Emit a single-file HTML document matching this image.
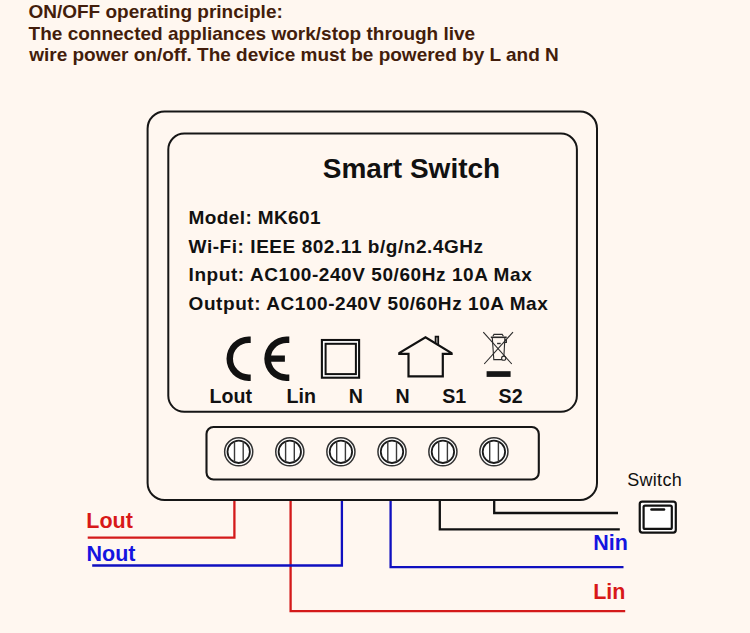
<!DOCTYPE html>
<html>
<head>
<meta charset="utf-8">
<style>
html,body{margin:0;padding:0;background:#fff7f0;}
body{width:750px;height:633px;overflow:hidden;position:relative;}
svg{position:absolute;left:0;top:0;display:block;}
text{font-family:"Liberation Sans",sans-serif;}
.b{font-weight:bold;}
</style>
</head>
<body>
<svg width="750" height="633" viewBox="0 0 750 633">
  <defs><clipPath id="hc"><rect x="398.2" y="330" width="54.5" height="50"/></clipPath></defs>
  <rect x="0" y="0" width="750" height="633" fill="#fff7f0"/>

  <!-- header text -->
  <g class="b" fill="#431d0b" font-size="19" font-weight="bold">
    <text x="28.4" y="17.8">ON/OFF operating principle:</text>
    <text x="28.6" y="39.6">The connected appliances work/stop through live</text>
    <text x="29.2" y="61.4">wire power on/off. The device must be powered by L and N</text>
  </g>

  <!-- outer box -->
  <rect x="147.6" y="111.5" width="449.4" height="388.4" rx="17" ry="17" fill="none" stroke="#161616" stroke-width="2"/>
  <!-- inner label panel -->
  <rect x="168.3" y="133.6" width="408.6" height="278.2" rx="16" ry="16" fill="none" stroke="#161616" stroke-width="2"/>

  <!-- title -->
  <text x="322.8" y="177.8" font-size="28" font-weight="bold" fill="#111">Smart Switch</text>

  <g font-size="19" font-weight="bold" fill="#111">
    <text x="188.6" y="224" letter-spacing="0.38">Model: MK601</text>
    <text x="188.6" y="252.5" letter-spacing="0.55">Wi-Fi: IEEE 802.11 b/g/n2.4GHz</text>
    <text x="188.6" y="281" letter-spacing="0.57">Input: AC100-240V 50/60Hz 10A Max</text>
    <text x="188.6" y="309.6" letter-spacing="0.56">Output: AC100-240V 50/60Hz 10A Max</text>
  </g>

  <!-- CE mark -->
  <path fill="#111" d="M250.7,336.5 L248.7,336.5 A22.2,22.2 0 0 0 248.7,380.9 L250.7,380.9 L250.7,374.4 L248.7,374.4 A15.7,15.7 0 0 1 248.7,343 L250.7,343 Z"/>
  <path fill="#111" d="M289.3,336.5 L286.5,336.5 A22.2,22.2 0 0 0 286.5,380.9 L289.3,380.9 L289.3,374.4 L286.5,374.4 A15.7,15.7 0 0 1 271.1,361.8 L284.9,361.8 L284.9,355.6 L271.1,355.6 A15.7,15.7 0 0 1 286.5,343 L289.3,343 Z"/>

  <!-- double square -->
  <rect x="321.9" y="340" width="37.2" height="37.7" fill="#fff" stroke="#111" stroke-width="2.1"/>
  <rect x="325.6" y="343.8" width="30.3" height="30.3" fill="#fff7f0" stroke="#111" stroke-width="2"/>

  <!-- house -->
  <path clip-path="url(#hc)" fill="none" stroke="#111" stroke-width="2.2" stroke-linejoin="miter" d="M397.9,353.8 L425.5,337.3 L452.7,353.8 L442.8,353.8 L442.8,376.3 L408.5,376.3 L408.5,353.8 Z"/>
  <path fill="none" stroke="#111" stroke-width="1.8" d="M435.6,343.6 L435.6,336.6 L438.2,336.6 L438.2,345.2"/>

  <!-- WEEE -->
  <g fill="none" stroke="#2a2a2a" stroke-width="1.1">
    <path d="M483.3,332.2 L511.8,364"/>
    <path d="M513,332.1 L484.2,364"/>
    <path d="M492.9,336.3 L494,334.4 L502.2,334.4 L503.4,336.3"/>
    <path d="M490.8,337.3 L506.7,337.3" stroke-width="1.6"/>
    <path d="M492.3,337.9 L493.8,359.6 L502,359.6"/>
    <path d="M504.9,337.9 L503.9,356.2"/>
    <path d="M504.8,339.8 L506.4,339.8 L506.4,342.4 L504.7,342.4"/>
    <circle cx="503.7" cy="358.2" r="2.1"/>
  </g>
  <path d="M497.1,343.5 L500.7,343.5" stroke="#2a2a2a" stroke-width="1.4"/>
  <rect x="486.6" y="371.2" width="24" height="5.7" fill="#161616"/>

  <!-- labels -->
  <g font-size="19.6" font-weight="bold" fill="#111">
    <text x="209.5" y="403.1">Lout</text>
    <text x="286.5" y="403.1">Lin</text>
    <text x="348.8" y="403.1">N</text>
    <text x="395.5" y="403.1">N</text>
    <text x="442.3" y="403.1">S1</text>
    <text x="498.6" y="403.1">S2</text>
  </g>

  <!-- terminal strip -->
  <rect x="206.5" y="427" width="332.3" height="52.5" rx="7" ry="7" fill="none" stroke="#161616" stroke-width="2.1"/>

  <g id="terms">
    <g transform="translate(238.7,451.8)"><circle r="14.05" fill="#fff" stroke="#333" stroke-width="1.5"/><circle r="11.2" fill="#fff" stroke="#1a1a1a" stroke-width="1.8"/><path d="M-4.2,-10.2 L-4.2,10.2 M4.5,-10.2 L4.5,10.2" stroke="#3a3a3a" stroke-width="1.4"/></g>
    <g transform="translate(289.8,451.8)"><circle r="14.05" fill="#fff" stroke="#333" stroke-width="1.5"/><circle r="11.2" fill="#fff" stroke="#1a1a1a" stroke-width="1.8"/><path d="M-4.2,-10.2 L-4.2,10.2 M4.5,-10.2 L4.5,10.2" stroke="#3a3a3a" stroke-width="1.4"/></g>
    <g transform="translate(340.9,451.8)"><circle r="14.05" fill="#fff" stroke="#333" stroke-width="1.5"/><circle r="11.2" fill="#fff" stroke="#1a1a1a" stroke-width="1.8"/><path d="M-4.2,-10.2 L-4.2,10.2 M4.5,-10.2 L4.5,10.2" stroke="#3a3a3a" stroke-width="1.4"/></g>
    <g transform="translate(392.0,451.8)"><circle r="14.05" fill="#fff" stroke="#333" stroke-width="1.5"/><circle r="11.2" fill="#fff" stroke="#1a1a1a" stroke-width="1.8"/><path d="M-4.2,-10.2 L-4.2,10.2 M4.5,-10.2 L4.5,10.2" stroke="#3a3a3a" stroke-width="1.4"/></g>
    <g transform="translate(442.9,451.8)"><circle r="14.05" fill="#fff" stroke="#333" stroke-width="1.5"/><circle r="11.2" fill="#fff" stroke="#1a1a1a" stroke-width="1.8"/><path d="M-4.2,-10.2 L-4.2,10.2 M4.5,-10.2 L4.5,10.2" stroke="#3a3a3a" stroke-width="1.4"/></g>
    <g transform="translate(493.9,451.8)"><circle r="14.05" fill="#fff" stroke="#333" stroke-width="1.5"/><circle r="11.2" fill="#fff" stroke="#1a1a1a" stroke-width="1.8"/><path d="M-4.2,-10.2 L-4.2,10.2 M4.5,-10.2 L4.5,10.2" stroke="#3a3a3a" stroke-width="1.4"/></g>
  </g>

  <!-- wires -->
  <g fill="none" stroke-width="2.3" stroke-linejoin="miter" stroke-linecap="butt">
    <path stroke="#d41a1a" d="M234.4,501 L234.4,537.6 L87.7,537.6"/>
    <path stroke="#d41a1a" d="M290.6,501 L290.6,611.1 L625.2,611.1"/>
    <path stroke="#1010c0" d="M341.9,501 L341.9,565.5 L92.2,565.5"/>
    <path stroke="#1010c0" d="M390.6,501 L390.6,567.2 L623.5,567.2"/>
    <path stroke="#111" d="M439.8,501 L439.8,529.3 L619.8,529.3"/>
    <path stroke="#111" d="M494.2,501 L494.2,513 L618,513"/>
  </g>

  <!-- wire labels -->
  <g font-size="21.5" font-weight="bold">
    <text x="86.3" y="528.2" fill="#d81818">Lout</text>
    <text x="86.5" y="560.5" fill="#1414e0">Nout</text>
    <text x="593.2" y="550" fill="#1414e0">Nin</text>
    <text x="593.2" y="599" fill="#d81818">Lin</text>
  </g>

  <!-- switch -->
  <text x="627.2" y="486" font-size="18" letter-spacing="0.3" fill="#111">Switch</text>
  <rect x="639.75" y="501.6" width="36.05" height="31" rx="2.5" ry="2.5" fill="#fff" stroke="#111" stroke-width="2.2"/>
  <rect x="643.6" y="505.6" width="28.2" height="23.3" rx="1.5" ry="1.5" fill="#fff" stroke="#111" stroke-width="2.2"/>
  <path d="M651.5,509.5 L664,509.5" stroke="#111" stroke-width="2.6" stroke-linecap="round"/>
</svg>
</body>
</html>
